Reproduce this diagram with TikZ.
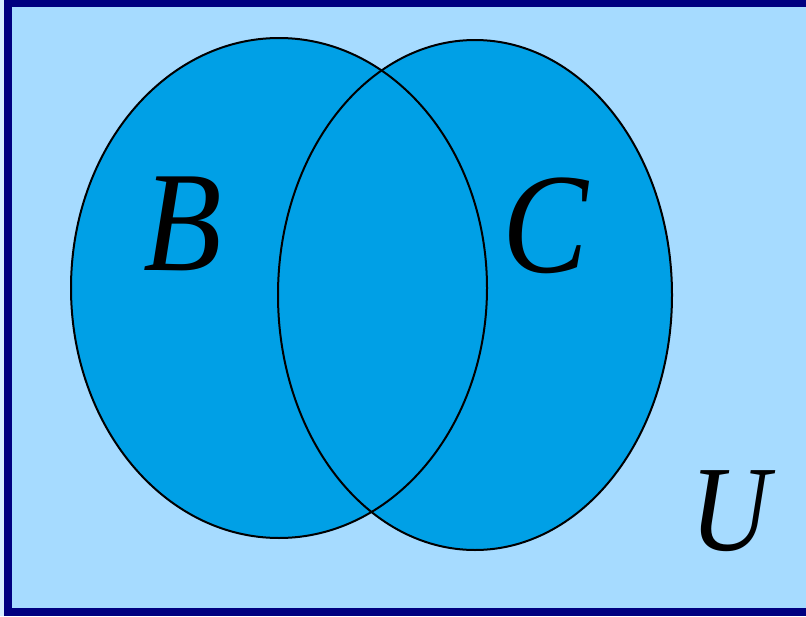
\documentclass[tikz,border=0pt]{standalone}
\usepackage{fontspec}
\newfontfamily\timesit{Liberation Serif Italic}
\definecolor{bgblue}{HTML}{A6DBFF}
\definecolor{setblue}{HTML}{00A0E6}
\definecolor{navy}{HTML}{000080}
\definecolor{edgeblue}{HTML}{D6EEFF}
\tikzset{
  setfill/.style={fill=setblue},
  setline/.style={draw=black, line width=2pt},
  setlabel/.style={inner sep=0pt, anchor=base, xscale=0.9, transform shape, font=\fontsize{143}{146}\timesit},
  ulabel/.style={inner sep=0pt, anchor=base, xscale=0.9, transform shape, font=\fontsize{122}{125}\timesit}
}
\begin{document}
\begin{tikzpicture}[x=1pt,y=-1pt]
\useasboundingbox (0,0) rectangle (806,616);
\fill[edgeblue] (0,0) rectangle (806,616);
\fill[navy] (4,0) rectangle (806,616);
\fill[bgblue] (12,7) rectangle (806,608);
\fill[setfill] (279,288) ellipse [x radius=208, y radius=250];
\fill[setfill] (475,295) ellipse [x radius=197, y radius=255];
\draw[setline] (279,288) ellipse [x radius=208, y radius=250];
\draw[setline] (475,295) ellipse [x radius=197, y radius=255];
\node[setlabel] (b) at (183,270) {B};
\node[setlabel] (c) at (545,272) {C};
\node[ulabel] (u) at (730,550) {U};
\end{tikzpicture}
\end{document}
